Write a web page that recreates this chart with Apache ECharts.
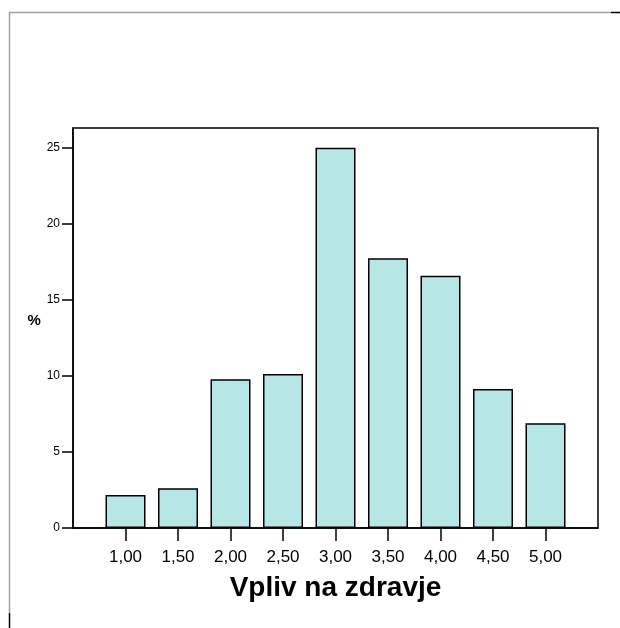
<!DOCTYPE html>
<html>
<head>
<meta charset="utf-8">
<script src="https://cdn.jsdelivr.net/npm/echarts@6/dist/echarts.min.js"></script>
<style>
  html, body { margin: 0; padding: 0; background: #fff; }
  #chart { width: 620px; height: 628px; }
</style>
</head>
<body>
<div id="chart"></div>
<script>
// score categories (x) and percentage of respondents (y)
var scores = [1, 1.5, 2, 2.5, 3, 3.5, 4, 4.5, 5];
var percents = [2.17, 2.62, 9.78, 10.13, 25.0, 17.74, 16.58, 9.14, 6.88];
var yTicks = [0, 5, 10, 15, 20, 25];

var myChart = echarts.init(document.getElementById('chart'));

var fmtScore = function (v) {
  return v.toFixed(2).replace('.', ',');
};

myChart.setOption({
  animation: false,
  grid: {
    left: 73,
    right: 22,
    top: 128,
    bottom: 100,
    show: true,
    borderColor: '#000',
    borderWidth: 1.5,
    containLabel: false,
    outerBoundsMode: 'none'
  },
  xAxis: {
    type: 'value',
    min: 0.5,
    max: 5.5,
    name: 'Vpliv na zdravje',
    nameLocation: 'middle',
    nameGap: 46,
    nameTextStyle: {
      fontFamily: 'Liberation Sans, Arial, sans-serif',
      fontSize: 28,
      fontWeight: 'bold',
      color: '#000'
    },
    axisLine: { show: true, lineStyle: { color: '#000', width: 1.5 } },
    axisTick: {
      show: true,
      length: 13,
      customValues: scores,
      lineStyle: { color: '#000', width: 1.5 }
    },
    axisLabel: {
      customValues: scores,
      formatter: fmtScore,
      margin: 21,
      fontFamily: 'Liberation Sans, Arial, sans-serif',
      fontSize: 17,
      color: '#000'
    },
    splitLine: { show: false }
  },
  yAxis: {
    type: 'value',
    min: 0,
    max: 26.3,
    name: '%',
    nameLocation: 'middle',
    nameRotate: 0,
    nameGap: 31,
    nameTextStyle: {
      fontFamily: 'Liberation Sans, Arial, sans-serif',
      fontSize: 15,
      fontWeight: 'bold',
      color: '#000',
      verticalAlign: 'bottom'
    },
    axisLine: { show: true, lineStyle: { color: '#000', width: 1.5 } },
    axisTick: {
      show: true,
      length: 11,
      customValues: yTicks,
      lineStyle: { color: '#000', width: 1.5 }
    },
    axisLabel: {
      customValues: yTicks,
      margin: 13,
      fontFamily: 'Liberation Sans, Arial, sans-serif',
      fontSize: 12,
      color: '#000'
    },
    splitLine: { show: false }
  },
  graphic: [
    { type: 'line', shape: { x1: 9, y1: 12.5, x2: 611, y2: 12.5 }, style: { stroke: '#a0a0a0', lineWidth: 1.5 } },
    { type: 'line', shape: { x1: 611, y1: 12.5, x2: 620, y2: 12.5 }, style: { stroke: '#000', lineWidth: 1.5 } },
    { type: 'line', shape: { x1: 9.5, y1: 12, x2: 9.5, y2: 613 }, style: { stroke: '#a0a0a0', lineWidth: 1.5 } },
    { type: 'line', shape: { x1: 9.5, y1: 613, x2: 9.5, y2: 628 }, style: { stroke: '#000', lineWidth: 1.5 } }
  ],
  series: [
    {
      type: 'bar',
      barWidth: 40,
      data: scores.map(function (s, i) { return [s, percents[i]]; }),
      itemStyle: {
        color: '#b7e6e6',
        borderColor: '#000',
        borderWidth: 1.5
      }
    }
  ]
});
</script>
</body>
</html>
